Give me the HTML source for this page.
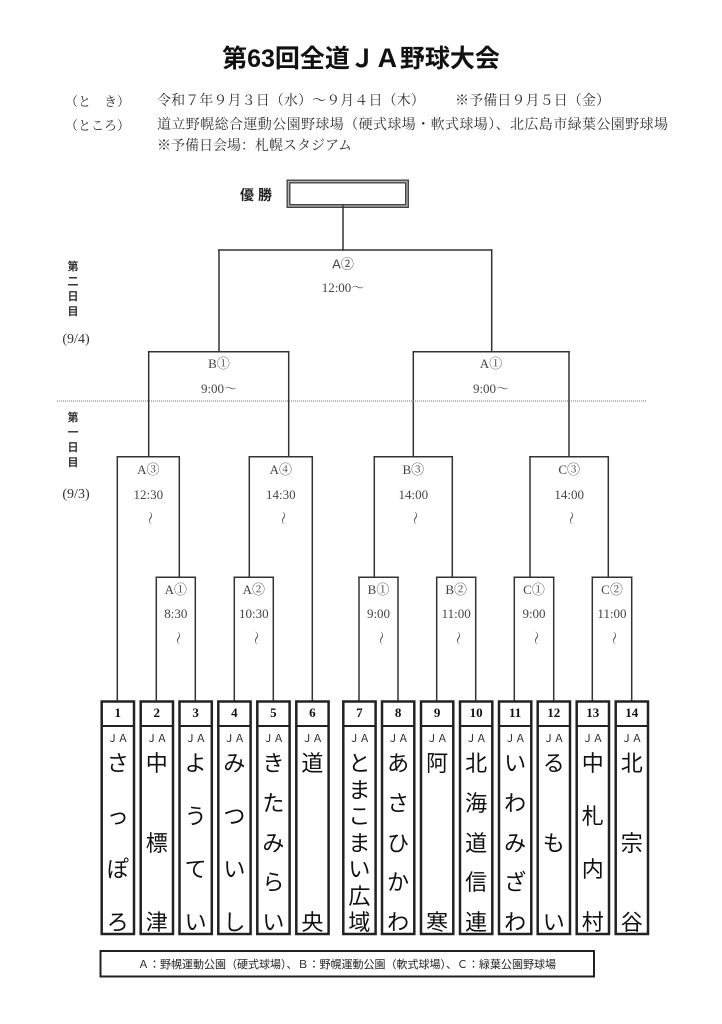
<!DOCTYPE html>
<html><head><meta charset="utf-8">
<style>
html,body{margin:0;padding:0;background:#fff;}
body{width:722px;height:1024px;position:relative;overflow:hidden;}
.t{position:absolute;white-space:nowrap;}
.c{position:absolute;transform:translate(-50%,-50%);white-space:nowrap;}
.ser{font-family:"Liberation Serif","Noto Serif CJK SC",serif;}
.san{font-family:"Liberation Sans","Noto Sans CJK JP",sans-serif;}
.lbl{font-family:"Liberation Serif","Noto Serif CJK SC",serif;font-size:13px;color:#444;line-height:14px;}
.til{position:absolute;font-family:"Liberation Serif","Noto Serif CJK SC",serif;font-size:14px;color:#444;transform:translate(-50%,-50%) rotate(90deg);line-height:14px;}
.name{position:absolute;top:753px;height:181px;width:32px;display:flex;flex-direction:column;justify-content:space-between;align-items:center;font-family:"Liberation Sans","Noto Sans CJK JP",sans-serif;font-size:22px;line-height:22px;color:#111;}
.ja{position:absolute;top:733px;width:32px;text-align:center;font-family:"Liberation Sans","Noto Sans CJK JP",sans-serif;font-size:10.5px;line-height:12px;color:#222;}
.num{position:absolute;top:705px;width:32px;text-align:center;font-family:"Liberation Serif","Noto Serif CJK SC",serif;font-weight:bold;font-size:13px;line-height:16px;color:#111;}
.day{position:absolute;width:16px;text-align:center;font-family:"Liberation Sans","Noto Sans CJK JP",sans-serif;font-weight:bold;font-size:11px;line-height:15px;color:#333;}
</style></head>
<body>
<svg width="722" height="1024" style="position:absolute;left:0;top:0" xmlns="http://www.w3.org/2000/svg">
<g stroke="#333" stroke-width="1.5" fill="none" stroke-linecap="square">
<rect x="288.5" y="181.5" width="118.5" height="24.5" stroke="#444" stroke-width="4"/>
<rect x="288.5" y="181.5" width="118.5" height="24.5" stroke="#b5b5b5" stroke-width="1.3"/>
<line x1="343" y1="206" x2="343" y2="250"/>
<line x1="219" y1="250" x2="491.7" y2="250"/>
<line x1="219" y1="250" x2="219" y2="351.7"/>
<line x1="491.7" y1="250" x2="491.7" y2="351.7"/>
<line x1="148.7" y1="351.7" x2="288.7" y2="351.7"/>
<line x1="413.3" y1="351.7" x2="569" y2="351.7"/>
<line x1="148.7" y1="351.7" x2="148.7" y2="456.7"/>
<line x1="288.7" y1="351.7" x2="288.7" y2="456.7"/>
<line x1="413.3" y1="351.7" x2="413.3" y2="456.7"/>
<line x1="569" y1="351.7" x2="569" y2="456.7"/>
<line x1="117.3" y1="456.7" x2="179.3" y2="456.7"/>
<line x1="249.3" y1="456.7" x2="312.3" y2="456.7"/>
<line x1="374.3" y1="456.7" x2="452.3" y2="456.7"/>
<line x1="530" y1="456.7" x2="608.3" y2="456.7"/>
<line x1="117.3" y1="456.7" x2="117.3" y2="701"/>
<line x1="179.3" y1="456.7" x2="179.3" y2="577.3"/>
<line x1="249.3" y1="456.7" x2="249.3" y2="577.3"/>
<line x1="312.3" y1="456.7" x2="312.3" y2="701"/>
<line x1="374.3" y1="456.7" x2="374.3" y2="577.3"/>
<line x1="452.3" y1="456.7" x2="452.3" y2="577.3"/>
<line x1="530" y1="456.7" x2="530" y2="577.3"/>
<line x1="608.3" y1="456.7" x2="608.3" y2="577.3"/>
<line x1="156.3" y1="577.3" x2="195.3" y2="577.3"/>
<line x1="234.3" y1="577.3" x2="273.3" y2="577.3"/>
<line x1="359" y1="577.3" x2="398" y2="577.3"/>
<line x1="436.7" y1="577.3" x2="475.7" y2="577.3"/>
<line x1="514.3" y1="577.3" x2="553.7" y2="577.3"/>
<line x1="592.3" y1="577.3" x2="631.7" y2="577.3"/>
<line x1="156.3" y1="577.3" x2="156.3" y2="701"/>
<line x1="195.3" y1="577.3" x2="195.3" y2="701"/>
<line x1="234.3" y1="577.3" x2="234.3" y2="701"/>
<line x1="273.3" y1="577.3" x2="273.3" y2="701"/>
<line x1="359" y1="577.3" x2="359" y2="701"/>
<line x1="398" y1="577.3" x2="398" y2="701"/>
<line x1="436.7" y1="577.3" x2="436.7" y2="701"/>
<line x1="475.7" y1="577.3" x2="475.7" y2="701"/>
<line x1="514.3" y1="577.3" x2="514.3" y2="701"/>
<line x1="553.7" y1="577.3" x2="553.7" y2="701"/>
<line x1="592.3" y1="577.3" x2="592.3" y2="701"/>
<line x1="631.7" y1="577.3" x2="631.7" y2="701"/>
</g>
<line x1="57" y1="401" x2="647" y2="401" stroke="#777" stroke-width="1" stroke-dasharray="1,1"/>
<g stroke="#222" fill="none">
<g stroke-width="2.5">
<rect x="101.7" y="701.5" width="32.3" height="232.5"/>
<rect x="140.7" y="701.5" width="32.3" height="232.5"/>
<rect x="179.5" y="701.5" width="32.3" height="232.5"/>
<rect x="218.3" y="701.5" width="32.3" height="232.5"/>
<rect x="257.3" y="701.5" width="32.3" height="232.5"/>
<rect x="296.3" y="701.5" width="32.3" height="232.5"/>
<rect x="343.3" y="701.5" width="32.3" height="232.5"/>
<rect x="382" y="701.5" width="32.3" height="232.5"/>
<rect x="421" y="701.5" width="32.3" height="232.5"/>
<rect x="460" y="701.5" width="32.3" height="232.5"/>
<rect x="499" y="701.5" width="32.3" height="232.5"/>
<rect x="537.7" y="701.5" width="32.3" height="232.5"/>
<rect x="576.7" y="701.5" width="32.3" height="232.5"/>
<rect x="615.7" y="701.5" width="32.3" height="232.5"/>
</g>
<g stroke-width="2">
<line x1="101.7" y1="726" x2="134" y2="726"/>
<line x1="140.7" y1="726" x2="173" y2="726"/>
<line x1="179.5" y1="726" x2="211.8" y2="726"/>
<line x1="218.3" y1="726" x2="250.6" y2="726"/>
<line x1="257.3" y1="726" x2="289.6" y2="726"/>
<line x1="296.3" y1="726" x2="328.6" y2="726"/>
<line x1="343.3" y1="726" x2="375.6" y2="726"/>
<line x1="382" y1="726" x2="414.3" y2="726"/>
<line x1="421" y1="726" x2="453.3" y2="726"/>
<line x1="460" y1="726" x2="492.3" y2="726"/>
<line x1="499" y1="726" x2="531.3" y2="726"/>
<line x1="537.7" y1="726" x2="570" y2="726"/>
<line x1="576.7" y1="726" x2="609" y2="726"/>
<line x1="615.7" y1="726" x2="648" y2="726"/>
</g>
<rect x="100.5" y="951" width="493.5" height="25.5" stroke-width="2"/>
</g>
</svg>

<div class="c san" style="left:361px;top:57px;font-size:25px;font-weight:bold;color:#111;">第63回全道ＪＡ野球大会</div>

<div class="t ser" style="left:65px;top:94px;font-size:13px;line-height:16px;color:#333;">（と　き）</div>
<div class="t ser" style="left:157px;top:94px;font-size:14px;line-height:16px;color:#333;letter-spacing:0.1px;">令和７年９月３日（水）～９月４日（木）</div>
<div class="t ser" style="left:455px;top:94px;font-size:14px;line-height:16px;color:#333;letter-spacing:0.1px;">※予備日９月５日（金）</div>
<div class="t ser" style="left:65px;top:118px;font-size:13px;line-height:16px;color:#333;">（ところ）</div>
<div class="t ser" style="left:157px;top:118px;font-size:14px;line-height:16px;color:#333;letter-spacing:0.4px;">道立野幌総合運動公園野球場（硬式球場・軟式球場）、北広島市緑葉公園野球場</div>
<div class="t ser" style="left:157px;top:139px;font-size:14px;line-height:16px;color:#333;letter-spacing:0px;">※予備日会場：札幌スタジアム</div>

<div class="c san" style="left:258px;top:195px;font-size:14px;font-weight:bold;color:#222;letter-spacing:4px;">優勝</div>

<div class="day" style="left:65px;top:260px;">第<br>二<br>日<br>目</div>
<div class="c ser" style="left:76px;top:340px;font-size:14px;color:#333;">(9/4)</div>
<div class="day" style="left:65px;top:411px;">第<br>一<br>日<br>目</div>
<div class="c ser" style="left:76px;top:495px;font-size:14px;color:#333;">(9/3)</div>

<div class="c san" style="left:343px;top:263px;font-size:13px;color:#444;">A②</div>
<div class="c lbl" style="left:343px;top:288px;">12:00～</div>
<div class="c lbl" style="left:219px;top:364px;">B①</div>
<div class="c lbl" style="left:219px;top:389px;">9:00～</div>
<div class="c lbl" style="left:491px;top:364px;">A①</div>
<div class="c lbl" style="left:491px;top:389px;">9:00～</div>

<div class="c lbl" style="left:148.3px;top:470px;">A③</div>
<div class="c lbl" style="left:148.3px;top:495px;">12:30</div>
<div class="til" style="left:148.3px;top:518px;">～</div>
<div class="c lbl" style="left:280.8px;top:470px;">A④</div>
<div class="c lbl" style="left:280.8px;top:495px;">14:30</div>
<div class="til" style="left:280.8px;top:518px;">～</div>
<div class="c lbl" style="left:413.3px;top:470px;">B③</div>
<div class="c lbl" style="left:413.3px;top:495px;">14:00</div>
<div class="til" style="left:413.3px;top:518px;">～</div>
<div class="c lbl" style="left:569.2px;top:470px;">C③</div>
<div class="c lbl" style="left:569.2px;top:495px;">14:00</div>
<div class="til" style="left:569.2px;top:518px;">～</div>

<div class="c lbl" style="left:175.8px;top:590px;">A①</div>
<div class="c lbl" style="left:175.8px;top:614px;">8:30</div>
<div class="til" style="left:175.8px;top:638px;">～</div>
<div class="c lbl" style="left:253.8px;top:590px;">A②</div>
<div class="c lbl" style="left:253.8px;top:614px;">10:30</div>
<div class="til" style="left:253.8px;top:638px;">～</div>
<div class="c lbl" style="left:378.5px;top:590px;">B①</div>
<div class="c lbl" style="left:378.5px;top:614px;">9:00</div>
<div class="til" style="left:378.5px;top:638px;">～</div>
<div class="c lbl" style="left:456.2px;top:590px;">B②</div>
<div class="c lbl" style="left:456.2px;top:614px;">11:00</div>
<div class="til" style="left:456.2px;top:638px;">～</div>
<div class="c lbl" style="left:534px;top:590px;">C①</div>
<div class="c lbl" style="left:534px;top:614px;">9:00</div>
<div class="til" style="left:534px;top:638px;">～</div>
<div class="c lbl" style="left:612px;top:590px;">C②</div>
<div class="c lbl" style="left:612px;top:614px;">11:00</div>
<div class="til" style="left:612px;top:638px;">～</div>

<div class="num" style="left:101.8px">1</div><div class="ja" style="left:101.8px">ＪＡ</div>
<div class="name" style="left:101.8px"><span>さ</span><span>っ</span><span>ぽ</span><span>ろ</span></div>

<div class="num" style="left:140.8px">2</div><div class="ja" style="left:140.8px">ＪＡ</div>
<div class="name" style="left:140.8px"><span>中</span><span>標</span><span>津</span></div>

<div class="num" style="left:179.6px">3</div><div class="ja" style="left:179.6px">ＪＡ</div>
<div class="name" style="left:179.6px"><span>よ</span><span>う</span><span>て</span><span>い</span></div>

<div class="num" style="left:218.4px">4</div><div class="ja" style="left:218.4px">ＪＡ</div>
<div class="name" style="left:218.4px"><span>み</span><span>つ</span><span>い</span><span>し</span></div>

<div class="num" style="left:257.4px">5</div><div class="ja" style="left:257.4px">ＪＡ</div>
<div class="name" style="left:257.4px"><span>き</span><span>た</span><span>み</span><span>ら</span><span>い</span></div>

<div class="num" style="left:296.4px">6</div><div class="ja" style="left:296.4px">ＪＡ</div>
<div class="name" style="left:296.4px"><span>道</span><span>央</span></div>

<div class="num" style="left:343.4px">7</div><div class="ja" style="left:343.4px">ＪＡ</div>
<div class="name" style="left:343.4px"><span>と</span><span>ま</span><span>こ</span><span>ま</span><span>い</span><span>広</span><span>域</span></div>

<div class="num" style="left:382.1px">8</div><div class="ja" style="left:382.1px">ＪＡ</div>
<div class="name" style="left:382.1px"><span>あ</span><span>さ</span><span>ひ</span><span>か</span><span>わ</span></div>

<div class="num" style="left:421.1px">9</div><div class="ja" style="left:421.1px">ＪＡ</div>
<div class="name" style="left:421.1px"><span>阿</span><span>寒</span></div>

<div class="num" style="left:460.1px">10</div><div class="ja" style="left:460.1px">ＪＡ</div>
<div class="name" style="left:460.1px"><span>北</span><span>海</span><span>道</span><span>信</span><span>連</span></div>

<div class="num" style="left:499.1px">11</div><div class="ja" style="left:499.1px">ＪＡ</div>
<div class="name" style="left:499.1px"><span>い</span><span>わ</span><span>み</span><span>ざ</span><span>わ</span></div>

<div class="num" style="left:537.8px">12</div><div class="ja" style="left:537.8px">ＪＡ</div>
<div class="name" style="left:537.8px"><span>る</span><span>も</span><span>い</span></div>

<div class="num" style="left:576.8px">13</div><div class="ja" style="left:576.8px">ＪＡ</div>
<div class="name" style="left:576.8px"><span>中</span><span>札</span><span>内</span><span>村</span></div>

<div class="num" style="left:615.8px">14</div><div class="ja" style="left:615.8px">ＪＡ</div>
<div class="name" style="left:615.8px"><span>北</span><span>宗</span><span>谷</span></div>

<div class="c san" style="left:347px;top:964px;font-size:11px;color:#222;">Ａ：野幌運動公園（硬式球場）、Ｂ：野幌運動公園（軟式球場）、Ｃ：緑葉公園野球場</div>
</body></html>
